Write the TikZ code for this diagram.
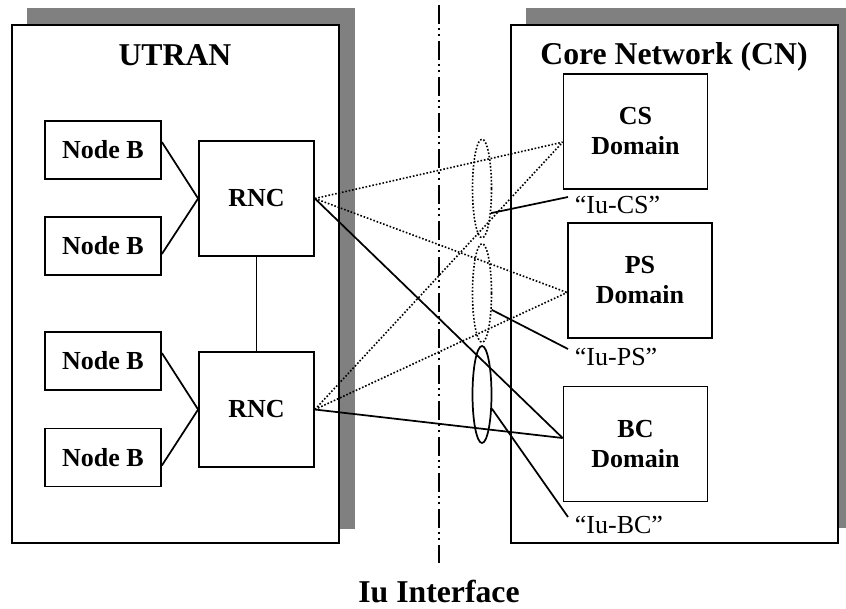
\documentclass[tikz,border=0pt]{standalone}
\usepackage{fontspec}
\setmainfont{Liberation Serif}
\usepackage{tikz}
\usetikzlibrary{shapes.geometric,positioning,calc}

\tikzset{
	shadowbox/.style={fill=black!50,draw=none},
	areabox/.style={draw,fill=white,line width=1.5pt},
	nodeb/.style={draw,line width=1.3pt,minimum width=87pt,minimum height=43.5pt,inner sep=0pt,font=\fontsize{19.5}{22.5}\selectfont\bfseries},
	rncbox/.style={nodeb,minimum width=86.25pt,minimum height=86.25pt},
	domainbox/.style={nodeb,align=center,minimum width=108pt,minimum height=86.25pt},
	iulink/.style={ellipse,draw,line width=1.3pt,minimum width=14.25pt,minimum height=74pt,inner sep=0pt},
	iulabel/.style={anchor=west,inner xsep=5pt,inner ysep=0pt,font=\fontsize{19.5}{22}\selectfont},
	areatitle/.style={font=\fontsize{23.8}{28}\selectfont\bfseries},
	dotline/.style={line width=1.2pt,dash pattern=on 1.2pt off 1.4pt},
	link/.style={line width=1.3pt}
}

\begin{document}
\begin{tikzpicture}[x=0.75pt,y=-0.75pt]
	\useasboundingbox (0,0) rectangle (846,608);

	\fill[shadowbox] (27,8) rectangle (355,529);
	\fill[shadowbox] (526,8) rectangle (854,528);
	\draw[areabox] (12,25) rectangle (339,543);
	\draw[areabox] (511,25) rectangle (838,543);

	\node[areatitle] (utran) at (175,55) {UTRAN};
	\node[areatitle] (cn) at (674,57) {Core Network (CN)};

	\node[nodeb] (nb1) at (103,150) {Node B};
	\node[nodeb] (nb2) at (103,246) {Node B};
	\node[nodeb] (nb3) at (103,361) {Node B};
	\node[nodeb] (nb4) at (103,457.5) {Node B};
	\node[rncbox] (rnc1) at (256.5,198.5) {RNC};
	\node[rncbox] (rnc2) at (256.5,409.5) {RNC};

	\node[domainbox] (cs) at (635.5,131.5) {CS\\Domain};
	\node[domainbox] (ps) at (640,280.5) {PS\\Domain};
	\node[domainbox] (bc) at (635.5,444) {BC\\Domain};

	\draw[link] ([yshift=6pt]nb1.east) -- (rnc1.west);
	\draw[link] ([yshift=-6pt]nb2.east) -- (rnc1.west);
	\draw[link] ([yshift=6pt]nb3.east) -- (rnc2.west);
	\draw[link] ([yshift=-6pt]nb4.east) -- (rnc2.west);
	\draw[link] (rnc1.south) -- (rnc2.north);

	\draw[dotline] (rnc1.east) -- ([yshift=-8pt]cs.west);
	\draw[dotline] (rnc2.east) -- ([yshift=-8pt]cs.west);
	\draw[dotline] (rnc1.east) -- ([yshift=-9pt]ps.west);
	\draw[dotline] (rnc2.east) -- ([yshift=-9pt]ps.west);
	\draw[link] (rnc1.east) -- ([yshift=4.5pt]bc.west);
	\draw[link] (rnc2.east) -- ([yshift=4.5pt]bc.west);

	\coordinate (iutop) at (439,5);
	\coordinate (iubot) at (439,563);
	\draw[line width=1.4pt,dash pattern=on 14pt off 3pt on 1.5pt off 3pt on 1.5pt off 4pt] (iutop) -- (iubot);
	\node[areatitle] (iu) at (439,592) {Iu Interface};

	\node[iulink,dotline] (ecs) at (482,188.5) {};
	\node[iulink,dotline] (eps) at (482,293) {};
	\node[iulink,minimum height=72.75pt] (ebc) at (482,394.5) {};

	\node[iulabel] (lcs) at (568,205) {``Iu-CS''};
	\node[iulabel] (lps) at (568,357) {``Iu-PS''};
	\node[iulabel] (lbc) at (568,525) {``Iu-BC''};
	\draw[link] (ecs.-70) -- ([yshift=6pt]lcs.west);
	\draw[link] (eps.-60) -- ([yshift=6pt]lps.west);
	\draw[link] (ebc.-55) -- ([yshift=6pt]lbc.west);
\end{tikzpicture}
\end{document}
